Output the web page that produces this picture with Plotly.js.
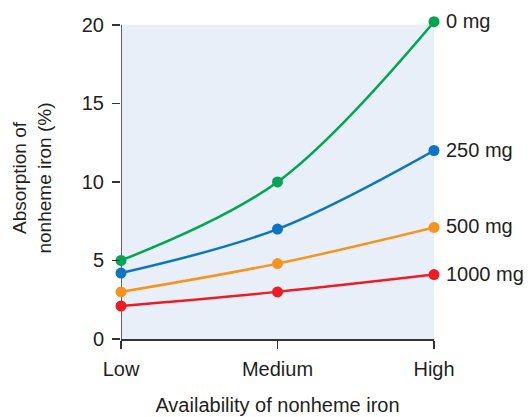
<!DOCTYPE html>
<html>
<head>
<meta charset="utf-8">
<script src="https://cdn.plot.ly/plotly-3.0.1.min.js"></script>
<style>html,body{margin:0;padding:0;background:#fff;}#chart{width:531px;height:417px;}</style>
</head>
<body>
<div id="chart"></div>
<script>
const categories = ["Low", "Medium", "High"];
const seriesNames = ["0 mg", "250 mg", "500 mg", "1000 mg"];
const dose0 = [5.0, 10.0, 20.2];
const dose250 = [4.2, 7.0, 12.0];
const dose500 = [3.0, 4.8, 7.1];
const dose1000 = [2.1, 3.0, 4.1];
const yTicks = [0, 5, 10, 15, 20];

const colors = ["#00a651", "#0a75c2", "#f7941d", "#ed1c24"];
const allSeries = [dose0, dose250, dose500, dose1000];
const xIdx = categories.map((c, i) => i);
const yMax = yTicks[yTicks.length - 1];

const traces = allSeries.map((vals, k) => ({
  x: xIdx, y: vals, type: "scatter", mode: "lines+markers",
  name: seriesNames[k],
  line: {color: colors[k], width: 2.5, shape: "spline", smoothing: 1},
  marker: {color: colors[k], size: 11},
  cliponaxis: false, hoverinfo: "skip"
}));

const FONT = "Liberation Sans, Arial, sans-serif";
const annotations = allSeries.map((vals, k) => ({
  x: 2, y: vals[2], xref: "x", yref: "y", text: seriesNames[k],
  showarrow: false, xanchor: "left", yanchor: "middle", xshift: 10, yshift: 1,
  font: {family: FONT, size: 20, color: "#231f20"}
}));

const shapes = [
  {type: "rect", xref: "x", yref: "y", x0: 0, x1: 2, y0: 0, y1: yMax,
   fillcolor: "#e8eff8", line: {width: 0}, layer: "below"},
  {type: "line", xref: "x", yref: "y", x0: 0, x1: 0, y0: 0, y1: yMax,
   line: {color: "#333", width: 1.5}, layer: "below"}
];

const layout = {
  width: 531, height: 417,
  margin: {l: 121, r: 97, t: 17, b: 78, pad: 0},
  paper_bgcolor: "#ffffff", plot_bgcolor: "#ffffff",
  showlegend: false,
  font: {family: FONT, size: 20, color: "#231f20"},
  xaxis: {
    range: [0, 2], tickvals: xIdx, ticktext: categories,
    showgrid: false, zeroline: false, showline: true, linecolor: "#333", linewidth: 1.5,
    ticks: "outside", ticklen: 8, tickcolor: "#333", tickwidth: 1.5,
    ticklabelstandoff: 3,
    tickfont: {size: 20}, fixedrange: true,
    title: {text: "Availability of nonheme iron", font: {size: 20}, standoff: 19}
  },
  yaxis: {
    range: [0, 20.5], tickvals: yTicks,
    showgrid: false, zeroline: false, showline: false,
    ticks: "outside", ticklen: 8, tickcolor: "#333", tickwidth: 1.5,
    ticklabelstandoff: 4,
    tickfont: {size: 20}, fixedrange: true,
    title: {text: "Absorption of<br>nonheme iron (%)", font: {size: 19}, standoff: 25}
  },
  shapes: shapes,
  annotations: annotations
};

Plotly.newPlot("chart", traces, layout, {displayModeBar: false, staticPlot: true});
</script>
</body>
</html>
